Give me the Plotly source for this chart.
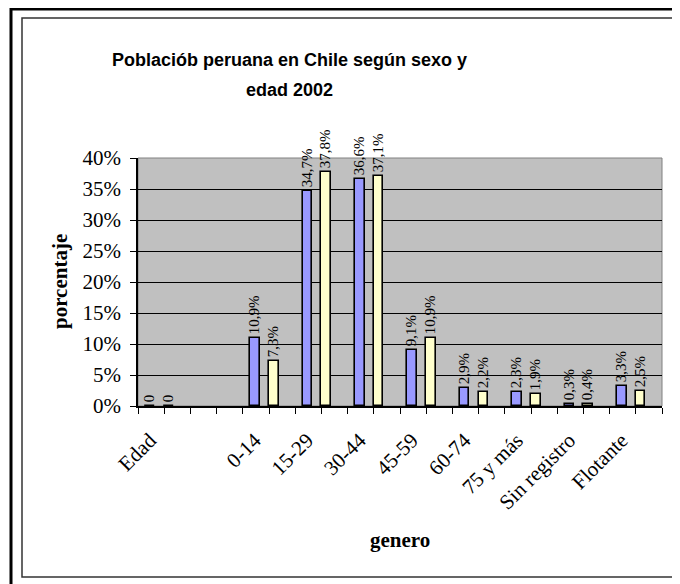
import plotly.graph_objects as go

categories = ["Edad", "", "0-14", "15-29", "30-44", "45-59", "60-74", "75 y más", "Sin registro", "Flotante"]
hombres = [0, None, 10.9, 34.7, 36.6, 9.1, 2.9, 2.3, 0.3, 3.3]
mujeres = [0, None, 7.3, 37.8, 37.1, 10.9, 2.2, 1.9, 0.4, 2.5]
y_ticks = [0, 5, 10, 15, 20, 25, 30, 35, 40]


def lab(v):
    if v is None:
        return ""
    if v == 0:
        return "0"
    return f"{v:.1f}".replace(".", ",") + "%"


idx = list(range(len(categories)))

# page has an 8px body margin: figure coordinates = screen coordinates - 8
OFF = 8
W, H = 680 - OFF, 584 - OFF
L, R, T, B = 138 - OFF, 662 - OFF, 158 - OFF, 406 - OFF


def px(x):
    return (x - OFF - L) / (R - L)


def py(y):
    return (B - (y - OFF)) / (B - T)


serif = "Liberation Serif, Times New Roman, serif"
sans = "Liberation Sans, Arial, sans-serif"

fig = go.Figure()
for vals, color, off in [(hombres, "#9999FF", -0.36), (mujeres, "#FFFFCC", 0.0)]:
    fig.add_trace(go.Bar(
        x=idx, y=vals, width=0.185, offset=off,
        marker=dict(color=color, line=dict(color="black", width=1.6)),
        text=[lab(v) for v in vals], textposition="outside", textangle=-90,
        constraintext="none", cliponaxis=False,
        textfont=dict(family=serif, size=15, color="black"),
        showlegend=False, hoverinfo="skip",
    ))

fig.update_layout(
    width=W, height=H,
    margin=dict(l=L, r=W - R, t=T, b=H - B, autoexpand=False),
    paper_bgcolor="white", plot_bgcolor="#C0C0C0",
    barmode="overlay", bargap=0,
    xaxis=dict(
        range=[-0.5, len(categories) - 0.5],
        tickvals=[i - 0.27 for i in idx], ticktext=categories,
        ticks="", tickangle=-45, showgrid=False, zeroline=False,
        showline=True, linecolor="black", linewidth=1.5,
        ticklabelstandoff=12,
        tickfont=dict(family=serif, size=21, color="black"),
        minor=dict(tick0=-0.5, dtick=0.5, ticks="outside", ticklen=6,
                   tickcolor="black", tickwidth=1, showgrid=False),
    ),
    yaxis=dict(
        range=[0, 40], tickvals=y_ticks, ticktext=[f"{v}%" for v in y_ticks],
        ticks="outside", ticklen=6, tickcolor="black",
        showgrid=True, gridcolor="black", gridwidth=1, zeroline=False,
        showline=True, linecolor="black", linewidth=1.5,
        ticklabelstandoff=5,
        tickfont=dict(family=serif, size=21, color="black"),
    ),
    shapes=[
        dict(type="rect", xref="paper", yref="paper", x0=0, x1=1, y0=0, y1=1,
             line=dict(color="#808080", width=1), layer="below"),
        dict(type="rect", xref="paper", yref="paper",
             x0=px(22), x1=px(720), y0=py(577), y1=py(18),
             line=dict(color="#333333", width=1.5)),
        dict(type="rect", xref="paper", yref="paper",
             x0=px(11), x1=px(730), y0=py(640), y1=py(9),
             line=dict(color="black", width=3)),
    ],
    annotations=[
        dict(text="<b>Poblaciób peruana en Chile según sexo y</b>", xref="paper", yref="paper",
             x=px(289), y=py(60), showarrow=False, xanchor="center", yanchor="middle",
             font=dict(family=sans, size=18, color="black")),
        dict(text="<b>edad 2002</b>", xref="paper", yref="paper",
             x=px(289), y=py(90), showarrow=False, xanchor="center", yanchor="middle",
             font=dict(family=sans, size=18, color="black")),
        dict(text="<b>porcentaje</b>", xref="paper", yref="paper",
             x=px(60), y=0.5, showarrow=False, textangle=-90,
             xanchor="center", yanchor="middle",
             font=dict(family=serif, size=21, color="black")),
        dict(text="<b>genero</b>", xref="paper", yref="paper",
             x=px(400), y=py(540), showarrow=False, xanchor="center", yanchor="middle",
             font=dict(family=serif, size=21, color="black")),
    ],
)

fig.write_html("out.html")
